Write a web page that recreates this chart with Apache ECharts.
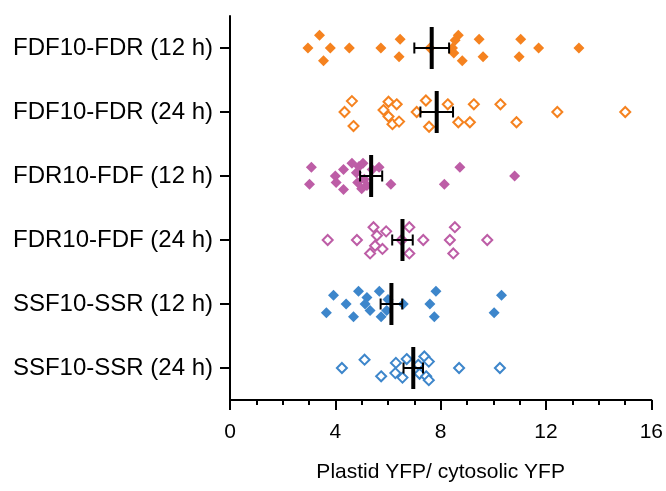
<!DOCTYPE html>
<html>
<head>
<meta charset="utf-8">
<script src="https://cdn.jsdelivr.net/npm/echarts@6/dist/echarts.min.js"></script>
<style>html,body{margin:0;padding:0;background:#fff}#c{width:666px;height:491px}</style>
</head>
<body>
<div id="c"></div>
<script>
// Categories (top to bottom)
const categories = ['FDF10-FDR (12 h)','FDF10-FDR (24 h)','FDR10-FDF (12 h)','FDR10-FDF (24 h)','SSF10-SSR (12 h)','SSF10-SSR (24 h)'];
const xTicks = [0, 4, 8, 12, 16];

// Per-cell values (x) and vertical jitter (fraction of a row)
const fdfFdr12 = [3.40,2.96,3.81,3.55,4.53,5.73,6.46,6.42,7.59,8.67,8.55,8.45,8.50,8.82,9.46,9.61,11.04,10.98,11.72,13.25];
const fdfFdr12J = [-0.2,0,0,0.2,0,0,-0.135,0.135,0,-0.2,-0.12,0,0.08,0.2,-0.135,0.135,-0.135,0.135,0,0];
const fdfFdr24 = [4.63,4.35,4.69,6.02,6.33,5.83,6.02,6.17,6.42,7.09,7.44,7.56,8.27,8.67,9.11,9.26,10.27,10.88,12.43,15.01];
const fdfFdr24J = [-0.17,0,0.22,-0.16,-0.12,-0.03,0.07,0.19,0.15,0,-0.18,0.23,-0.12,0.16,0.16,-0.12,-0.12,0.16,0,0];
const fdrFdf12 = [3.09,3.02,4.00,4.03,4.31,4.31,4.63,4.80,4.85,4.90,5.00,5.05,5.10,5.20,5.40,5.66,6.11,8.14,8.73,10.81];
const fdrFdf12J = [-0.135,0.13,0,0.1,-0.1,0.21,-0.2,-0.05,0.1,-0.15,0.2,-0.2,0.05,0.15,-0.1,-0.135,0.13,0.13,-0.135,0];
const fdrFdf24 = [3.71,4.82,5.45,5.58,5.93,5.51,5.79,5.32,6.81,6.81,6.52,7.34,8.35,8.54,8.48,9.77];
const fdrFdf24J = [0,0,-0.2,-0.07,-0.135,0.09,0.14,0.21,-0.2,0.21,0,0,0,-0.2,0.21,0];
const ssfSsr12 = [3.93,3.66,4.41,4.69,4.88,5.20,5.13,5.32,5.67,5.74,6.00,5.95,6.58,7.82,7.59,7.76,10.31,10.03];
const ssfSsr12J = [-0.135,0.135,0,0.2,-0.2,-0.1,0,0.1,-0.2,0.2,-0.07,0.1,0,-0.2,0,0.2,-0.135,0.135];
const ssfSsr24 = [4.25,5.11,5.74,6.30,6.28,6.55,6.71,7.15,7.20,7.38,7.55,7.45,7.55,8.70,10.25];
const ssfSsr24J = [0,-0.13,0.13,-0.08,0.08,0.15,-0.14,-0.05,0.09,-0.18,-0.1,0.13,0.19,0,0];

// Means and SEM per category
const means = [7.66, 7.85, 5.36, 6.55, 6.13, 6.96];
const sems  = [0.66, 0.62, 0.42, 0.39, 0.41, 0.37];

const colors = ['#F5821F','#F5821F','#BD5DA6','#BD5DA6','#3D86CB','#3D86CB'];
const hollow = [false,true,false,true,false,true];
const rows = [[fdfFdr12,fdfFdr12J],[fdfFdr24,fdfFdr24J],[fdrFdf12,fdrFdf12J],[fdrFdf24,fdrFdf24J],[ssfSsr12,ssfSsr12J],[ssfSsr24,ssfSsr24J]];

const FONT = 'Liberation Sans, Arial, sans-serif';
const centers = categories.map((c,i)=>i+0.5);

const series = rows.map((r,i)=>({
  type:'scatter',
  symbol:'diamond',
  symbolSize: hollow[i] ? 10 : 11,
  itemStyle: hollow[i] ? {color:'#fff', borderColor:colors[i], borderWidth:2, opacity:1} : {color:colors[i], opacity:1},
  data: r[0].map((v,k)=>[v, i+0.5+r[1][k]]),
  z:2
}));

series.push({
  type:'custom',
  z:5,
  data: means.map((m,i)=>[m, sems[i], i]),
  renderItem:function(params, api){
    const m = api.value(0), s = api.value(1), r = api.value(2);
    const c = api.coord([m, r+0.5]);
    const l = api.coord([m-s, r+0.5]);
    const rr = api.coord([m+s, r+0.5]);
    const st = {stroke:'#000', lineWidth:2};
    return {type:'group', children:[
      {type:'line', shape:{x1:l[0],y1:l[1],x2:rr[0],y2:rr[1]}, style:st},
      {type:'line', shape:{x1:l[0],y1:l[1]-5.5,x2:l[0],y2:l[1]+5.5}, style:st},
      {type:'line', shape:{x1:rr[0],y1:rr[1]-5.5,x2:rr[0],y2:rr[1]+5.5}, style:st},
      {type:'line', shape:{x1:c[0],y1:c[1]-21,x2:c[0],y2:c[1]+21}, style:{stroke:'#000', lineWidth:4}}
    ]};
  }
});

const chart = echarts.init(document.getElementById('c'), null, {renderer:'canvas'});
chart.setOption({
  animation:false,
  grid:{left:230, right:14, top:16, bottom:91},
  xAxis:{
    type:'value', position:'bottom', min:xTicks[0], max:xTicks[xTicks.length-1], interval:4,
    axisLine:{show:true, onZero:false, lineStyle:{color:'#000', width:2}},
    axisTick:{show:true, length:10, lineStyle:{color:'#000', width:2}},
    minorTick:{show:true, splitNumber:4, length:5, lineStyle:{color:'#000', width:2}},
    splitLine:{show:false},
    axisLabel:{color:'#000', fontSize:21, fontFamily:FONT, margin:22},
    name:'Plastid YFP/ cytosolic YFP', nameLocation:'middle', nameGap:62,
    nameTextStyle:{color:'#000', fontSize:21, fontFamily:FONT}
  },
  yAxis:{
    type:'value', min:0, max:6, inverse:true,
    axisLine:{show:true, onZero:false, lineStyle:{color:'#000', width:2}},
    axisTick:{show:true, length:10, customValues:centers, lineStyle:{color:'#000', width:2}},
    splitLine:{show:false},
    axisLabel:{color:'#000', fontSize:24, fontFamily:FONT, margin:17, customValues:centers,
      formatter:function(v){ const i = Math.round(v-0.5); return categories[i] || ''; }}
  },
  series:series
});
</script>
</body>
</html>
